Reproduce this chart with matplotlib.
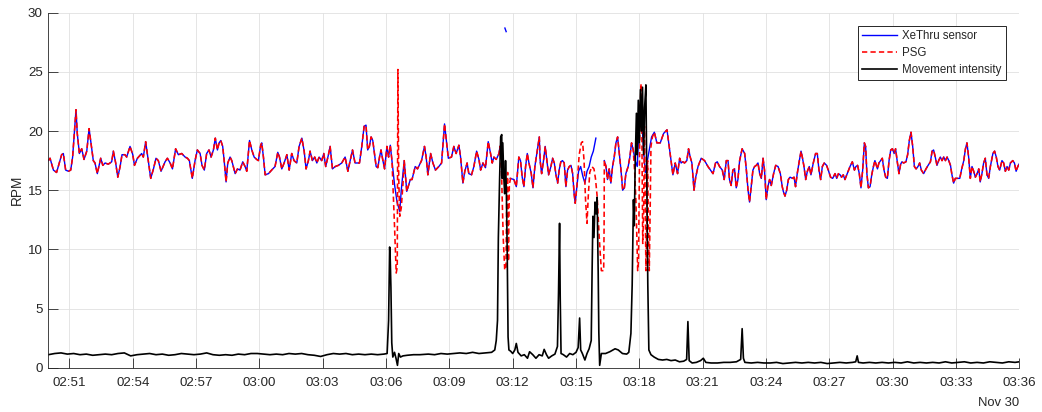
import numpy as np
import matplotlib
matplotlib.use("Agg")
import matplotlib.pyplot as plt
import matplotlib.dates as mdates
from matplotlib.ticker import FixedLocator

plt.rcParams['font.family'] = ['Liberation Sans', 'DejaVu Sans']

nan = np.nan
START = np.datetime64('2016-11-30T02:50:00')
END_MIN = 46.0

# ---- XeThru sensor respiration rate (minutes after 02:50, RPM) ----
xethru_min = [
 0.00,0.08,0.24,0.39,0.52,0.63,0.71,0.82,0.95,1.06,1.15,1.31,1.37,1.47,1.58,1.69,1.82,1.93,2.02,2.13,
 2.21,2.32,2.48,2.58,2.69,2.84,3.00,3.08,3.19,3.29,3.40,3.49,3.63,3.71,3.87,4.00,4.08,4.22,4.42,4.50,
 4.61,4.71,4.85,4.98,5.10,5.21,5.34,5.53,5.64,5.77,5.88,6.03,6.16,6.32,6.48,6.59,6.68,6.82,6.95,7.06,
 7.19,7.28,7.39,7.50,7.61,7.71,7.82,7.91,8.01,8.09,8.17,8.26,8.33,8.42,8.50,8.61,8.69,8.85,8.96,9.08,
 9.21,9.32,9.40,9.53,9.64,9.75,9.87,9.95,10.06,10.11,10.19,10.27,10.43,10.58,10.74,10.87,10.95,11.06,11.17,11.30,
 11.41,11.53,11.64,11.77,11.88,12.01,12.12,12.21,12.32,12.40,12.51,12.62,12.72,12.83,12.95,13.05,13.14,13.27,13.35,13.46,
 13.59,13.74,13.90,14.06,14.19,14.30,14.41,14.53,14.74,14.85,14.96,15.05,15.13,15.21,15.29,15.37,15.45,15.53,15.61,15.69,
 15.76,15.84,15.93,16.04,16.12,16.20,16.28,16.40,16.52,16.65,16.72,16.86,16.98,17.15,17.23,17.38,17.49,17.68,17.82,17.90,
 17.98,18.11,18.22,18.34,18.50,18.63,18.77,18.87,18.95,19.10,19.21,19.32,19.45,19.53,19.64,19.73,19.84,19.92,20.05,20.16,
 20.29,20.40,20.48,20.59,20.71,20.84,20.95,21.03,21.11,21.22,21.35,21.40,21.46,21.63,21.69,21.72,21.88,22.06,22.17,22.29,
 22.37,22.45,22.53,22.61,22.69,22.77,22.88,22.96,23.05,23.16,23.26,23.30,23.37,23.46,23.54,23.62,23.70,23.81,23.89,23.97,
 24.05,24.13,24.20,24.28,24.36,24.44,24.52,24.60,24.68,24.76,24.84,24.91,24.96,25.04,25.12,25.22,25.32,25.42,25.52,25.62,
 25.72,25.82,25.94,26.00,26.34,26.42,26.49,26.57,26.65,26.73,26.81,26.89,26.97,27.05,27.13,27.21,27.29,27.36,27.47,27.55,
 27.63,27.71,27.80,27.90,28.00,28.08,28.18,28.28,28.38,28.48,28.58,28.71,28.83,28.99,29.15,29.31,29.46,29.59,29.70,29.81,
 29.91,29.98,30.06,30.14,30.25,30.33,30.41,30.49,30.59,30.67,30.78,30.93,31.09,31.25,31.41,31.49,31.61,31.69,31.80,31.93,
 32.02,32.12,32.20,32.27,32.35,32.43,32.51,32.59,32.67,32.75,32.87,32.99,33.07,33.15,33.22,33.30,33.38,33.46,33.54,33.62,
 33.70,33.78,33.86,33.93,34.01,34.09,34.17,34.25,34.36,34.46,34.57,34.68,34.77,34.82,34.90,34.98,35.06,35.14,35.25,35.33,
 35.40,35.48,35.58,35.66,35.72,35.80,35.88,35.96,36.05,36.13,36.24,36.35,36.43,36.51,36.59,36.67,36.76,36.87,36.95,37.06,
 37.16,37.27,37.35,37.43,37.51,37.58,37.66,37.74,37.85,37.98,38.09,38.19,38.26,38.34,38.42,38.50,38.58,38.66,38.72,38.78,
 38.85,38.93,39.01,39.09,39.16,39.28,39.35,39.43,39.51,39.59,39.67,39.75,39.83,39.91,39.99,40.07,40.14,40.22,40.30,40.38,
 40.44,40.52,40.63,40.71,40.79,40.87,40.95,41.03,41.11,41.20,41.28,41.36,41.47,41.58,41.68,41.79,41.87,41.94,42.02,42.10,
 42.18,42.26,42.34,42.42,42.50,42.58,42.66,42.74,42.81,42.89,42.97,43.08,43.18,43.26,43.37,43.45,43.52,43.60,43.68,43.76,
 43.84,43.92,44.00,44.08,44.15,44.23,44.31,44.39,44.47,44.55,44.63,44.75,44.83,44.91,44.99,45.07,45.18,45.26,45.34,45.42,
 45.50,45.58,45.69,45.77,45.85,45.93,46.02]
xethru_rpm = [
 17.5,17.7,16.7,16.5,17.3,18.0,18.1,16.7,16.6,16.7,17.8,21.8,19.8,18.1,18.5,17.6,18.3,20.2,19.0,17.5,
 17.3,16.4,17.7,17.1,17.3,17.2,17.4,18.3,17.3,16.1,17.0,18.0,18.0,17.8,18.7,18.0,17.1,17.7,18.1,17.8,
 19.1,17.8,16.0,16.8,17.7,17.5,16.6,17.4,17.7,17.3,16.8,18.5,18.0,18.1,17.8,17.7,17.5,16.0,17.5,18.4,
 18.1,17.1,16.7,18.1,18.4,17.8,18.4,19.4,18.4,19.0,19.2,18.7,17.5,15.7,17.3,17.8,17.5,16.4,16.8,16.7,
 17.4,17.0,16.6,19.2,18.4,17.8,17.6,17.5,18.8,19.0,17.8,16.3,16.4,16.7,17.0,18.2,17.8,16.8,17.3,18.0,
 16.7,18.1,17.5,17.3,18.7,19.4,18.3,16.8,17.5,18.3,17.5,17.8,17.3,17.8,17.5,18.1,17.0,18.0,18.7,16.8,
 17.0,17.1,17.3,17.8,16.6,17.5,18.4,17.3,17.3,18.7,20.4,20.5,18.4,18.7,19.5,19.2,18.1,17.0,16.9,17.8,
 18.4,17.6,16.8,18.7,17.8,18.8,17.5,15.5,14.0,13.2,15.0,17.5,14.9,15.9,15.9,17.0,16.8,17.5,18.7,17.8,
 16.3,18.1,17.3,16.7,17.0,17.3,20.6,19.0,17.7,17.8,18.7,18.1,18.8,17.8,15.6,16.6,17.3,16.4,16.3,17.0,
 18.3,17.6,16.7,17.3,16.9,19.1,18.1,17.3,17.8,17.6,18.1,18.7,nan,28.7,28.4,nan,16.0,15.9,15.3,17.8,
 17.5,16.1,15.3,17.0,18.1,17.3,16.4,15.2,17.0,18.3,19.5,17.5,16.4,17.5,18.7,17.5,16.3,17.0,17.7,17.3,
 16.3,15.6,16.7,17.4,17.5,17.3,15.3,16.7,17.0,17.1,16.4,14.7,13.9,15.3,16.6,17.0,16.2,15.6,16.6,17.0,
 17.8,18.3,19.4,nan,17.5,17.0,15.9,16.8,15.6,17.0,17.8,19.0,19.5,18.1,16.7,15.0,15.2,16.4,17.0,17.8,
 19.0,18.4,17.5,17.0,21.0,22.0,19.0,16.5,17.5,18.5,19.5,19.9,19.0,19.0,19.8,20.1,18.1,16.3,17.3,16.4,
 17.7,17.3,17.4,17.3,17.5,18.5,17.8,17.3,15.0,16.1,17.0,17.7,17.5,17.0,16.6,16.4,17.3,17.4,17.0,16.7,
 15.9,17.5,17.5,15.9,15.4,16.7,16.8,15.2,15.9,17.5,18.5,18.1,16.7,15.0,14.0,15.3,16.7,17.0,17.1,17.3,
 16.4,16.0,17.7,16.7,14.2,15.3,15.9,15.4,16.4,17.1,17.0,16.4,15.3,14.9,14.5,15.0,15.9,16.1,16.0,16.1,
 15.3,16.4,17.5,18.3,17.8,17.0,15.9,16.6,17.0,16.3,17.3,18.1,18.1,16.7,15.9,17.0,17.3,17.1,16.7,16.1,
 16.0,16.4,16.0,16.4,16.3,16.1,16.3,15.9,16.4,17.0,17.4,16.7,17.0,17.1,16.4,15.2,16.7,19.0,18.7,16.4,
 15.2,15.3,16.3,17.0,17.5,16.8,17.3,17.5,17.7,16.7,16.1,16.0,17.5,18.4,18.5,18.1,18.5,17.4,16.4,17.2,
 17.4,17.3,17.4,18.0,19.2,19.9,18.7,17.0,16.8,17.0,17.3,16.7,16.4,16.8,17.1,17.4,18.3,18.4,17.8,17.1,
 17.5,17.8,17.5,17.8,17.5,17.8,17.5,17.1,16.3,15.6,16.0,16.0,16.0,16.7,17.5,18.5,19.0,17.8,16.0,17.0,
 16.6,16.1,16.4,16.8,15.7,16.4,17.3,17.7,16.3,16.0,17.0,18.1,18.3,17.8,17.0,16.7,17.5,17.3,16.6,17.0,
 16.7,17.3,17.5,17.3,16.6,17.0,17.3]

# ---- PSG reference: identical to XeThru except in these episodes ----
psg_episode_min = [
 [16.28,16.40,16.48,16.53,16.56,16.60,16.65,16.72,16.80,16.86],
 [21.40,21.47,21.55,21.62,21.68,21.72,21.76,21.80,21.84,21.90,22.06],
 [25.04,25.15,25.25,25.31,25.38,25.45,25.52,25.58,25.65,25.75,25.85,25.92,26.00,26.10,26.20,26.31,26.33,26.34],
 [27.71,27.78,27.84,27.92,27.96,28.02,28.08,28.11,28.16,28.20,28.24,28.28,28.31,28.35,28.39,28.43,28.47,28.51,28.55,28.62,28.71]]
psg_episode_rpm = [
 [17.5,12.0,8.0,8.5,25.2,16.0,12.8,13.5,15.5,17.5],
 [18.7,16.5,11.0,8.3,8.3,14.8,16.5,9.0,15.5,16.0,15.9],
 [15.3,18.0,19.0,19.1,17.5,14.2,12.2,14.5,16.5,17.0,16.8,16.0,14.5,11.0,8.2,8.2,12.0,17.5],
 [18.4,16.5,14.0,8.2,9.0,20.0,24.0,22.0,10.5,13.0,20.4,14.0,8.2,12.0,17.5,12.0,8.2,13.0,18.7,19.5,19.9]]

# ---- Movement intensity ----
move_min = [
 0.0,0.3,0.6,0.9,1.2,1.5,1.8,2.1,2.4,2.7,3.0,3.3,3.6,3.9,4.2,4.5,4.8,5.1,5.4,5.7,
 6.0,6.3,6.6,6.9,7.2,7.5,7.8,8.1,8.4,8.7,9.0,9.3,9.6,9.9,10.2,10.5,10.8,11.1,11.4,11.7,
 12.0,12.3,12.6,12.9,13.2,13.5,13.8,14.1,14.4,14.7,15.0,15.3,15.6,15.9,16.05,16.12,16.17,16.20,16.23,16.27,
 16.32,16.40,16.47,16.54,16.60,16.68,16.8,17.0,17.3,17.6,18.0,18.3,18.6,18.9,19.2,19.5,19.8,20.1,20.4,20.7,
 21.0,21.15,21.22,21.28,21.32,21.38,21.43,21.48,21.50,21.53,21.58,21.62,21.66,21.70,21.74,21.78,21.82,21.90,22.0,22.10,
 22.17,22.25,22.4,22.55,22.7,22.8,22.95,23.1,23.25,23.4,23.49,23.6,23.7,23.85,24.0,24.12,24.17,24.22,24.25,24.29,
 24.4,24.55,24.7,24.85,25.0,25.1,25.17,25.22,25.3,25.42,25.52,25.62,25.72,25.76,25.80,25.85,25.90,25.95,26.00,26.05,
 26.08,26.12,26.2,26.4,26.6,26.85,27.0,27.2,27.4,27.5,27.6,27.66,27.72,27.76,27.80,27.86,27.90,27.95,28.00,28.05,
 28.10,28.15,28.20,28.25,28.31,28.36,28.40,28.45,28.55,28.7,28.9,29.1,29.3,29.5,29.7,29.9,30.1,30.24,30.30,30.36,
 30.5,30.7,30.9,31.03,31.15,31.4,31.7,32.0,32.3,32.6,32.8,32.87,32.93,33.0,33.3,33.6,33.9,34.2,34.5,34.8,
 35.1,35.4,35.7,36.0,36.3,36.6,36.9,37.2,37.5,37.8,38.1,38.25,38.32,38.38,38.6,38.9,39.2,39.5,39.8,40.1,
 40.4,40.7,41.0,41.3,41.6,41.9,42.2,42.5,42.8,43.1,43.4,43.7,44.0,44.3,44.6,44.9,45.2,45.5,45.8,46.0]
move_val = [
 1.1,1.2,1.25,1.15,1.2,1.1,1.15,1.05,1.1,1.15,1.1,1.2,1.25,1.0,1.1,1.15,1.2,1.1,1.15,1.05,
 1.1,1.2,1.15,1.1,1.15,1.25,1.1,1.05,1.1,1.05,1.15,1.1,1.2,1.2,1.15,1.1,1.15,1.1,1.2,1.15,
 1.2,1.1,1.05,0.95,1.1,1.2,1.15,1.2,1.1,1.15,1.1,1.15,1.1,1.15,1.2,4.0,10.2,9.0,6.8,2.1,
 0.9,1.3,0.8,0.2,1.2,0.9,1.0,1.05,1.1,1.1,1.15,1.1,1.2,1.15,1.2,1.25,1.2,1.3,1.2,1.25,
 1.3,1.5,2.3,4.0,11.0,16.0,19.5,19.7,16.0,19.0,16.0,14.7,17.5,15.0,9.7,2.6,1.5,1.4,1.2,1.5,
 2.05,1.3,1.0,1.1,0.8,1.35,1.1,0.8,1.1,1.0,1.55,1.1,0.8,1.0,1.15,1.8,6.3,12.2,6.0,1.2,
 1.1,0.9,1.2,1.1,1.3,1.7,4.2,1.5,1.2,0.65,1.2,1.6,2.3,8.0,12.8,11.0,14.0,13.0,14.4,8.0,
 3.0,0.2,1.2,1.2,1.35,1.6,1.5,1.2,1.15,1.3,2.9,7.0,14.2,12.0,17.0,21.5,18.0,22.6,19.0,23.5,
 20.0,23.7,18.0,22.0,23.9,14.2,7.1,1.5,1.1,0.9,0.7,0.65,0.7,0.6,0.65,0.5,0.55,0.7,3.9,0.6,
 0.4,0.45,0.6,0.8,0.45,0.4,0.4,0.45,0.45,0.5,0.7,3.3,0.8,0.45,0.4,0.45,0.4,0.4,0.45,0.35,
 0.4,0.45,0.4,0.45,0.4,0.45,0.35,0.4,0.45,0.4,0.45,0.5,1.0,0.45,0.4,0.45,0.4,0.45,0.4,0.45,
 0.4,0.5,0.4,0.45,0.4,0.45,0.4,0.5,0.4,0.45,0.5,0.4,0.45,0.4,0.5,0.45,0.4,0.5,0.45,0.5]

x_tick_labels = ['02:51','02:54','02:57','03:00','03:03','03:06','03:09','03:12',
                 '03:15','03:18','03:21','03:24','03:27','03:30','03:33','03:36']
y_ticks = [0, 5, 10, 15, 20, 25, 30]
date_label = 'Nov 30'

# ---- build PSG series ----
xm = np.array(xethru_min); xv = np.array(xethru_rpm)
keep = np.ones(len(xm), bool)
for em in psg_episode_min:
    keep &= ~((xm >= em[0]) & (xm <= em[-1]))
keep &= ~np.isnan(xv)
pm = np.concatenate([xm[keep]] + [np.array(e) for e in psg_episode_min])
pv = np.concatenate([xv[keep]] + [np.array(e) for e in psg_episode_rpm])
order = np.argsort(pm, kind='stable')
pm, pv = pm[order], pv[order]

def to_time(mins):
    return START + (np.asarray(mins) * 60000).astype('timedelta64[ms]')

fig = plt.figure(figsize=(10.42, 4.12), dpi=100)
ax = fig.add_axes([0.0464, 0.1075, 0.9318, 0.8617])

l1, = ax.plot(to_time(xm), xv, color=(0, 0, 1), lw=1.0, label='XeThru sensor')
l2, = ax.plot(to_time(pm), pv, color=(1, 0, 0), lw=1.15, linestyle=(0, (3.3, 2.0)), label='PSG')
l3, = ax.plot(to_time(move_min), move_val, color='black', lw=1.2, label='Movement intensity')

ax.set_xlim(to_time(0.0), to_time(END_MIN))
ax.set_ylim(0, 30)

tick_pos = [np.datetime64('2016-11-30T' + s) for s in x_tick_labels]
ax.xaxis.set_major_locator(FixedLocator(mdates.date2num(tick_pos)))
ax.set_xticklabels(x_tick_labels)
ax.set_yticks(y_ticks)
ax.set_yticklabels([str(v) for v in y_ticks])

tc = '#262626'
ax.tick_params(axis='both', direction='in', length=7, width=0.6, colors=tc,
               labelsize=9.6, labelcolor=tc)
ax.tick_params(axis='x', pad=7)
ax.tick_params(axis='y', pad=4)
ax.grid(True, color='#e1e1e1', lw=0.6)
ax.set_axisbelow(True)
for s in ['top', 'right']:
    ax.spines[s].set_visible(False)
for s in ['left', 'bottom']:
    ax.spines[s].set_color(tc)
    ax.spines[s].set_linewidth(0.6)

ax.set_ylabel('RPM', fontsize=9.8, color=tc, labelpad=3)
ax.text(1.0, -0.1, date_label, transform=ax.transAxes, ha='right', va='center',
        fontsize=9.4, color=tc)

leg = ax.legend(handles=[l1, l2, l3], loc='upper right', bbox_to_anchor=(0.986, 0.9625),
                borderaxespad=0, fontsize=8.3, handlelength=3.0, handletextpad=0.5,
                labelspacing=0.45, borderpad=0.35, fancybox=False, framealpha=1)
leg.get_frame().set_edgecolor(tc)
leg.get_frame().set_linewidth(0.7)
for t in leg.get_texts():
    t.set_color(tc)

fig.savefig('out.png', dpi=100)
